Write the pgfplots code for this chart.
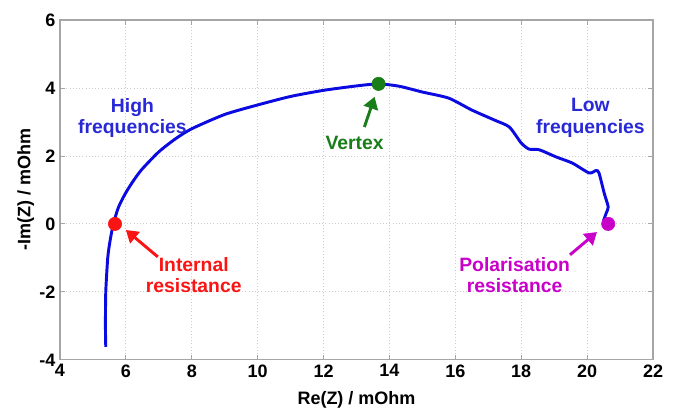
\documentclass[border=0pt]{standalone}
\usepackage{pgfplots}
\pgfplotsset{compat=1.18}
\usepackage{fontspec}
\setmainfont{Liberation Sans}
\usetikzlibrary{arrows.meta}
\definecolor{cblue}{RGB}{10,10,225}
\definecolor{tblue}{RGB}{40,40,215}
\definecolor{cred}{RGB}{250,20,20}
\definecolor{cgreen}{RGB}{25,125,25}
\definecolor{cmag}{RGB}{200,0,200}
\begin{document}
\begin{tikzpicture}
\begin{axis}[
  scale only axis,
  width=445pt, height=255pt,
  xmin=4, xmax=22, ymin=-4, ymax=6,
  xtick={4,6,...,22}, ytick={-4,-2,...,6},
  tick align=inside, tick pos=both,
  major tick length=4pt,
  tick style={gray!70, line width=0.6pt},
  axis line style={gray!70, line width=0.8pt},
  grid=major,
  major grid style={gray!40, dotted, line width=0.6pt},
  font=\fontsize{13.5}{15}\selectfont\bfseries,
  ticklabel style={font=\fontsize{13.5}{15}\selectfont\bfseries},
  /pgf/number format/assume math mode=true,
  xlabel={Re(Z) / mOhm}, ylabel={-Im(Z) / mOhm},
  xlabel style={yshift=-4pt},
  ylabel style={yshift=-3pt},
  clip=false,
]
\addplot[cblue, line width=2.2pt, smooth, tension=0.4] coordinates {
(5.39,-3.62) (5.38,-3.0) (5.39,-2.0) (5.45,-1.0) (5.52,-0.5) (5.62,0.0) (5.78,0.5) (6.0,0.92)
(6.25,1.3) (6.5,1.62) (7.0,2.12) (7.5,2.5) (8.0,2.8) (9.0,3.22) (10.0,3.5)
(11.0,3.75) (12.0,3.93) (13.0,4.06) (13.67,4.12) (14.3,4.05) (15.0,3.88)
(15.8,3.7) (16.5,3.35) (17.2,3.05) (17.64,2.85) (18.0,2.38) (18.24,2.2)
(18.55,2.18) (19.06,1.97) (19.55,1.79) (20.06,1.5) (20.27,1.57) (20.36,1.5)
(20.52,0.9) (20.64,0.5) (20.58,0.32) (20.5,0.1)
};
\addplot[only marks, mark=*, mark size=5pt, cred] coordinates {(5.67,0)};
\addplot[only marks, mark=*, mark size=5pt, cgreen] coordinates {(13.67,4.12)};
\addplot[only marks, mark=*, mark size=5pt, cmag] coordinates {(20.64,0)};
\draw[cred, line width=2.2pt, -{Triangle[length=9pt,width=11pt]}] (axis cs:6.97,-0.97) -- (axis cs:6.0,-0.18);
\draw[cgreen, line width=2.2pt, -{Triangle[length=9pt,width=11pt]}] (axis cs:13.24,2.85) -- (axis cs:13.55,3.74);
\draw[cmag, line width=2.2pt, -{Triangle[length=9pt,width=11pt]}] (axis cs:19.48,-0.91) -- (axis cs:20.3,-0.24);
\node[tblue, align=center, font=\fontsize{14.5}{15.8}\selectfont\bfseries] at (axis cs:6.2,3.12) {High\\frequencies};
\node[tblue, align=center, font=\fontsize{14.5}{15.8}\selectfont\bfseries] at (axis cs:20.1,3.12) {Low\\frequencies};
\node[cgreen, font=\fontsize{14.5}{15.8}\selectfont\bfseries] at (axis cs:12.94,2.38) {Vertex};
\node[cred, align=center, font=\fontsize{14.5}{15.8}\selectfont\bfseries] at (axis cs:8.06,-1.5) {Internal\\resistance};
\node[cmag, align=center, font=\fontsize{14.5}{15.8}\selectfont\bfseries] at (axis cs:17.8,-1.5) {Polarisation\\resistance};
\end{axis}
\pgfresetboundingbox
\path[use as bounding box] ([shift={(-45pt,-37.5pt)}]current axis.south west) rectangle ([shift={(18.75pt,15pt)}]current axis.north east);
\end{tikzpicture}
\end{document}
